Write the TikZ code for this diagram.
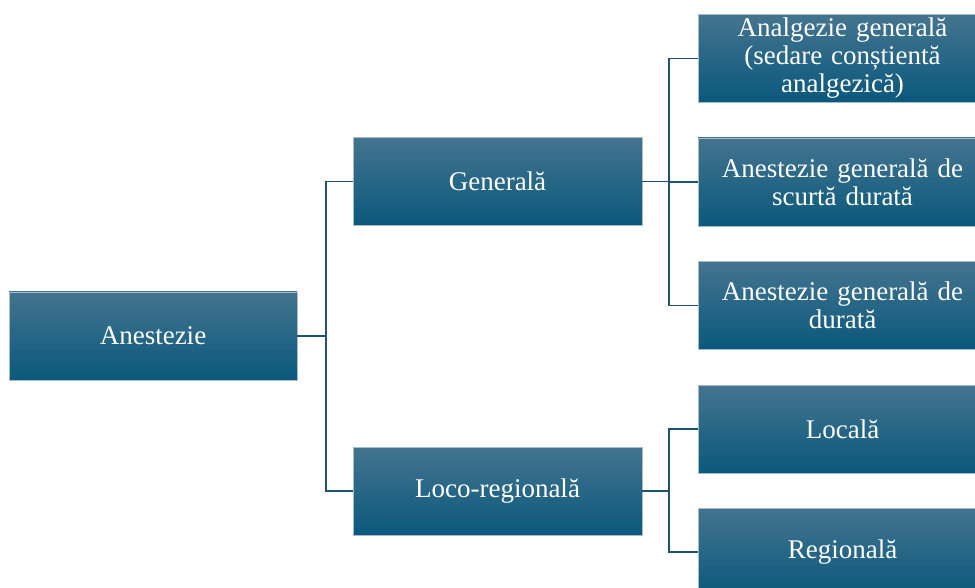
\documentclass[tikz,border=0pt]{standalone}
\usepackage{fontspec}
\setmainfont{Liberation Serif}
\newfontfamily\tnr{Liberation Serif}
\definecolor{linec}{HTML}{1E5470}
\definecolor{boxtop}{HTML}{44748F}
\definecolor{boxmid}{HTML}{13628A}
\definecolor{boxbot}{HTML}{0A587C}
\definecolor{boxedge}{HTML}{A8BCC8}
\begin{document}
\begin{tikzpicture}[x=1pt,y=-1pt,
  box/.style={minimum width=289pt, minimum height=88pt, inner sep=1pt,
    top color=boxtop, middle color=boxmid, bottom color=boxbot,
    draw=boxedge, line width=0.8pt, text=white, align=center,
    font=\tnr\fontsize{27}{28}\selectfont, text width=286pt},
  conn/.style={draw=linec, line width=1.6pt}]
\useasboundingbox (0,0) rectangle (975,588);
\clip (0,0) rectangle (975,588);
\node[box, minimum width=287pt] (a) at (153,336) {Anestezie};
\node[box] (g) at (497.5,181.5) {Generală};
\node[box] (l) at (497.5,491) {Loco-regională};
\node[box] (r1) at (842.5,58.5) {Analgezie generală\\(sedare conștientă\\analgezică)};
\node[box] (r2) at (842.5,182) {Anestezie generală de\\scurtă durată};
\node[box] (r3) at (842.5,305.5) {Anestezie generală de\\durată};
\node[box] (r4) at (842.5,429) {Locală};
\node[box] (r5) at (842.5,552) {Regională};
\coordinate (j1) at (326,336);
\coordinate (j2) at (669,181.5);
\coordinate (j3) at (669,491);
\draw[conn] (a.east) -- (j1);
\draw[conn] (j1) |- (g.west);
\draw[conn] (j1) |- (l.west);
\draw[conn] (g.east) -- (j2);
\draw[conn] (j2) |- (r1.west);
\draw[conn] (j2) |- (r2.west);
\draw[conn] (j2) |- (r3.west);
\draw[conn] (l.east) -- (j3);
\draw[conn] (j3) |- (r4.west);
\draw[conn] (j3) |- (r5.west);
\end{tikzpicture}
\end{document}
